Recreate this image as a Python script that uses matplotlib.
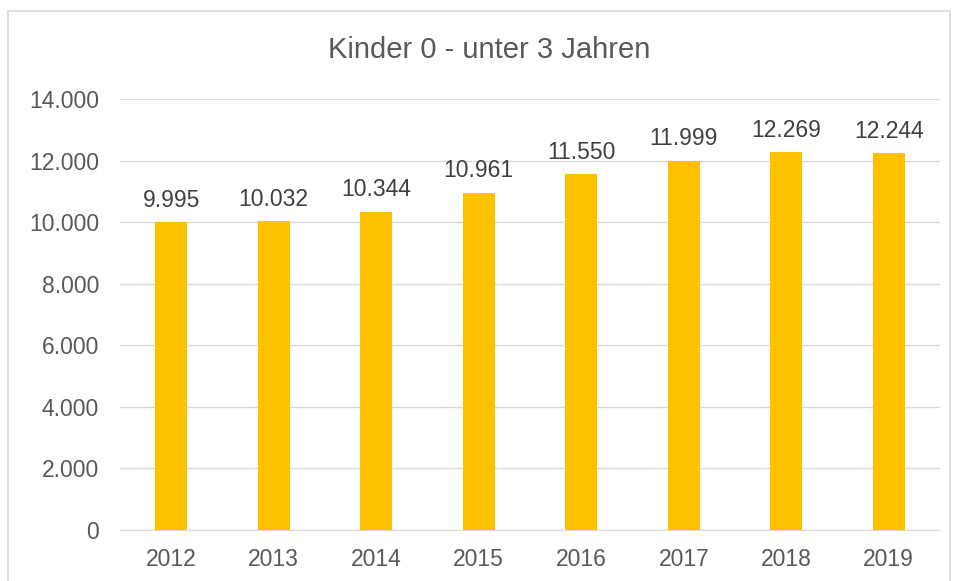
import matplotlib.pyplot as plt
from matplotlib.patches import Rectangle

plt.rcParams['font.family'] = ['Liberation Sans', 'DejaVu Sans']

jahre = ['2012', '2013', '2014', '2015', '2016', '2017', '2018', '2019']
kinder = [9995, 10032, 10344, 10961, 11550, 11999, 12269, 12244]
labels = ['9.995', '10.032', '10.344', '10.961', '11.550', '11.999', '12.269', '12.244']
yticks = [0, 2000, 4000, 6000, 8000, 10000, 12000, 14000]
ytick_labels = ['0', '2.000', '4.000', '6.000', '8.000', '10.000', '12.000', '14.000']

W, H = 957, 581
fig = plt.figure(figsize=(W / 100, H / 100), dpi=100)
# Rahmen um das Diagramm
fig.patches.append(Rectangle((8 / W, -0.1), (950 - 8) / W, (H - 11) / H + 0.1,
                             transform=fig.transFigure, fill=False,
                             edgecolor='#d9d9d9', linewidth=1.2))

ax = fig.add_axes([120 / W, (H - 530) / H, (940 - 120) / W, (530 - 99) / H])
x = range(len(jahre))
ax.bar(x, kinder, width=0.31, color='#FFC000', zorder=3)
for i, v in enumerate(kinder):
    ax.text(i, v + 330, labels[i], ha='center', va='bottom', fontsize=16.5, color='#404040')

ax.set_xlim(-0.5, len(jahre) - 0.5)
ax.set_ylim(0, 14000)
ax.set_yticks(yticks)
ax.set_yticklabels(ytick_labels)
ax.set_xticks(list(x))
ax.set_xticklabels(jahre)
ax.tick_params(length=0, labelsize=16.5, labelcolor='#595959')
ax.tick_params(axis='y', pad=15)
ax.tick_params(axis='x', pad=13)
ax.grid(axis='y', color='#d9d9d9', linewidth=1, zorder=0)
for s in ['top', 'right', 'left']:
    ax.spines[s].set_visible(False)
ax.spines['bottom'].set_color('#d9d9d9')

fig.text(489 / W, 1 - 50 / H, 'Kinder 0 - unter 3 Jahren', ha='center', va='center',
         fontsize=21, color='#595959')

plt.savefig('out.png', dpi=100)
